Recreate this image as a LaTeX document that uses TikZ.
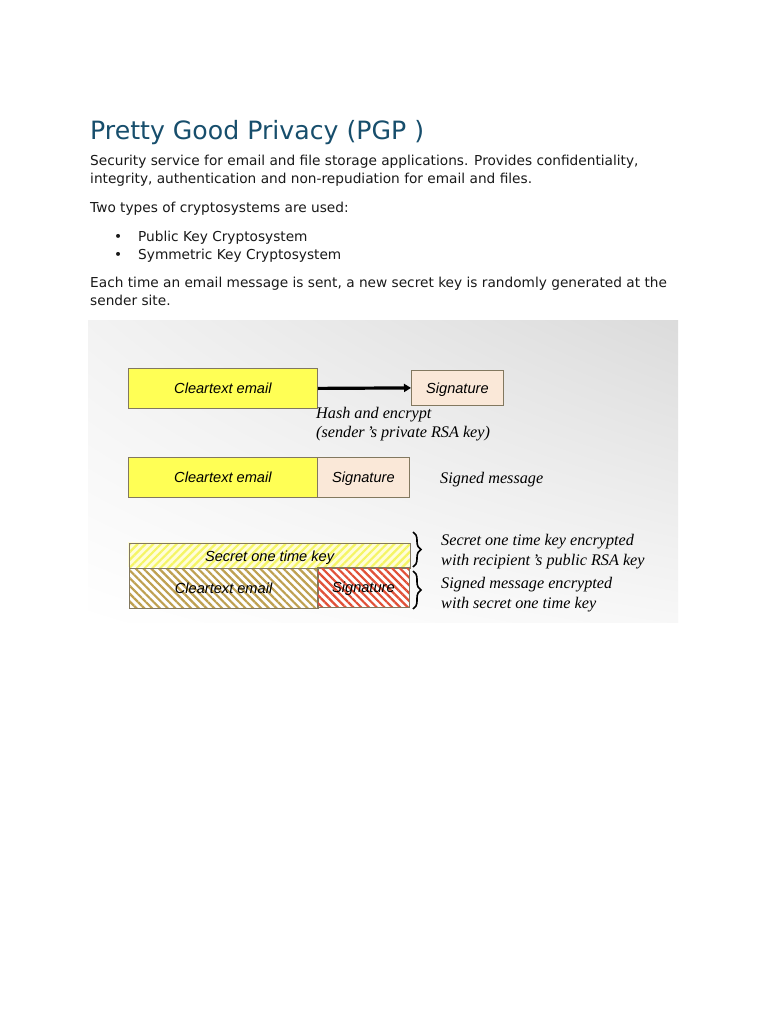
\documentclass[tikz,border=0pt]{standalone}
\usepackage{fontspec}
\setmainfont{DejaVu Sans}
\newfontfamily\boxfont{Liberation Sans}
\newfontfamily\capfont{Liberation Serif}
\usetikzlibrary{arrows.meta,patterns.meta,decorations.pathreplacing,shadings}
\definecolor{titleblue}{RGB}{23,78,108}
\definecolor{bodytext}{RGB}{25,25,25}
\definecolor{cyellow}{RGB}{255,255,85}
\definecolor{sigfill}{RGB}{250,232,216}
\definecolor{boxline}{RGB}{130,120,95}
\definecolor{khaki}{RGB}{190,160,80}
\definecolor{hred}{RGB}{225,80,55}
\definecolor{hyellow}{RGB}{245,245,100}
\tikzset{
  body/.style={anchor=base west,inner sep=0pt,text=bodytext,font=\fontsize{13.7}{16}\selectfont},
  captext/.style={anchor=base west,inner sep=0pt,text=black,font=\capfont\itshape\fontsize{16.2}{19}\selectfont},
  boxbase/.style={draw=boxline,line width=0.8pt,anchor=north west,inner sep=0pt,
    text height=13pt,text depth=2pt,
    font=\boxfont\itshape\fontsize{14.6}{17}\selectfont},
  ybox/.style={boxbase,fill=cyellow},
  sbox/.style={boxbase,fill=sigfill},
  hkey/.style={boxbase,pattern={Lines[angle=45,distance=5.5pt,line width=2.2pt]},pattern color=hyellow},
  hmail/.style={boxbase,pattern={Lines[angle=-45,distance=5.5pt,line width=2.2pt]},pattern color=khaki},
  hsig/.style={boxbase,pattern={Lines[angle=-45,distance=5.5pt,line width=2.2pt]},pattern color=hred},
  brc/.style={decorate,decoration={brace,amplitude=8pt,aspect=0.5},line width=1.6pt},
}
\begin{document}
\begin{tikzpicture}[x=1pt,y=-1pt]
\useasboundingbox (0,0) rectangle (768,1024);
\fill[white] (0,0) rectangle (768,1024);
% text
\node[anchor=base west,inner sep=0pt,text=titleblue,font=\fontsize{25.2}{30}\selectfont] (title) at (90,140) {Pretty Good Privacy (PGP )};
\node[body] (l1) at (90,166) {Security service for email and file storage applications. Provides confidentiality,};
\node[body] (l2) at (90,184) {integrity, authentication and non-repudiation for email and files.};
\node[body] (l3) at (90,213) {Two types of cryptosystems are used:};
\node[body] (b1) at (114,241) {\textbullet};
\node[body] (l4) at (138,241) {Public Key Cryptosystem};
\node[body] (b2) at (114,259) {\textbullet};
\node[body] (l5) at (138,259) {Symmetric Key Cryptosystem};
\node[body] (l6) at (90,287) {Each time an email message is sent, a new secret key is randomly generated at the};
\node[body] (l7) at (90,305) {sender site.};
% panel
\shade[upper left=white!95!black,upper right=white!86!black,lower left=white,lower right=white!97!black] (88,320) rectangle (678,622);
% row 1
\node[ybox,minimum width=189pt,minimum height=40pt] (c1) at (128,368) {Cleartext email};
\node[sbox,minimum width=92pt,minimum height=35pt] (s1) at (411,370) {Signature};
\draw[line width=3.2pt,-{Triangle[length=7pt,width=8pt]}] (c1.east) -- (s1.west);
\node[captext] (h1) at (316,418) {Hash and encrypt};
\node[captext] (h2) at (316,437) {(sender\,’s private RSA key)};
% row 2
\node[ybox,minimum width=189pt,minimum height=40pt] (c2) at (128,457) {Cleartext email};
\node[sbox,minimum width=92pt,minimum height=40pt] (s2) at (317,457) {Signature};
\node[captext] (sm) at (440,483) {Signed message};
% row 3
\fill[white!85!yellow] (128,542) rectangle (409,567);
\fill[white] (128,567) rectangle (409,607);
\node[hkey,minimum width=281pt,minimum height=25pt] (k3) at (128,542) {Secret one time key};
\node[hmail,minimum width=189pt,minimum height=40pt] (c3) at (128,567) {Cleartext email};
\node[hsig,minimum width=92pt,minimum height=40pt] (s3) at (317,567) {Signature};
\coordinate (bt1) at (413,532);
\coordinate (bb1) at (413,567);
\coordinate (bt2) at (413,571);
\coordinate (bb2) at (413,609);
\draw[brc] (bt1) -- (bb1);
\draw[brc] (bt2) -- (bb2);
\node[captext] (e1) at (441,545) {Secret one time key encrypted};
\node[captext] (e2) at (441,565) {with recipient\,’s public RSA key};
\node[captext] (e3) at (441,588) {Signed message encrypted};
\node[captext] (e4) at (441,608) {with secret one time key};
\end{tikzpicture}
\end{document}
